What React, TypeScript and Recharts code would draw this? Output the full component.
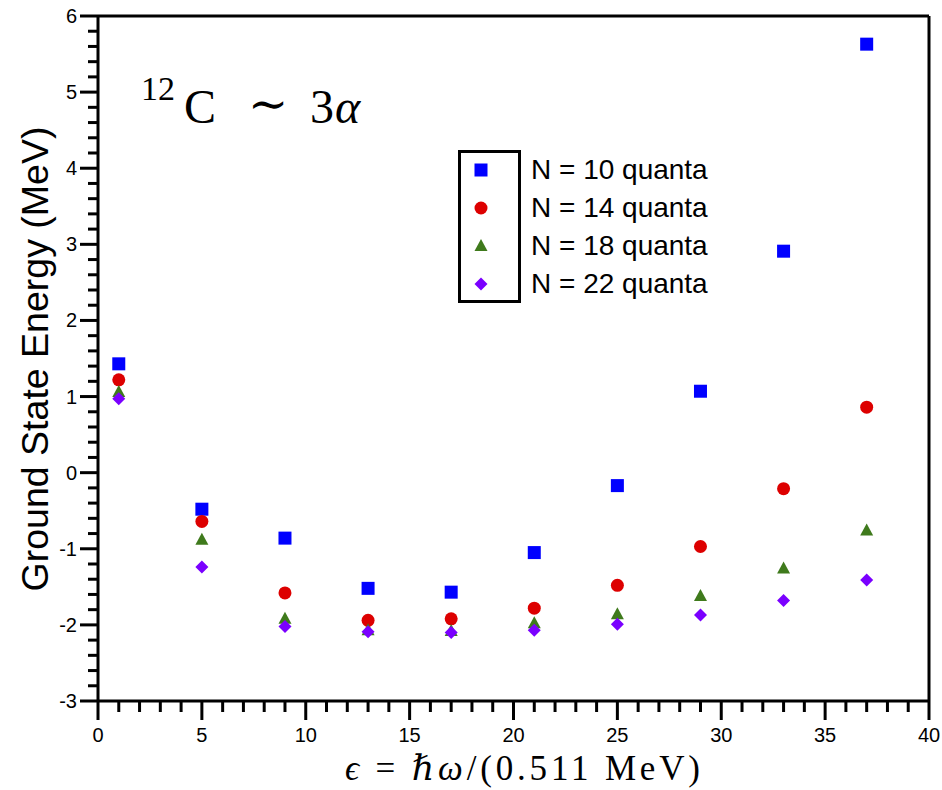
import { ScatterChart, Scatter, XAxis, YAxis, Legend, ReferenceLine, Label } from 'recharts'

const epsilon = [1, 5, 9, 13, 17, 21, 25, 29, 33, 37]
const quanta10 = [1.43, -0.48, -0.86, -1.52, -1.57, -1.05, -0.17, 1.07, 2.91, 5.63]
const quanta14 = [1.22, -0.64, -1.58, -1.94, -1.92, -1.78, -1.48, -0.97, -0.21, 0.86]
const quanta18 = [1.06, -0.88, -1.92, -2.07, -2.08, -1.98, -1.86, -1.62, -1.26, -0.76]
const quanta22 = [0.97, -1.24, -2.02, -2.09, -2.1, -2.07, -1.99, -1.87, -1.68, -1.41]

const xMajor = [0, 5, 10, 15, 20, 25, 30, 35, 40]
const yMajor = [-3, -2, -1, 0, 1, 2, 3, 4, 5, 6]
// minor ticks: every 1 on x, every 0.2 on y
const xTicks = Array.from({ length: 41 }, (_, i) => i)
const yTicks = Array.from({ length: 46 }, (_, i) => Math.round((-3 + i * 0.2) * 10) / 10)

const SANS = '"Liberation Sans", Arial, Helvetica, sans-serif'
const SERIF = '"Liberation Serif", "DejaVu Serif", serif'

const toPoints = (ys: number[]) => epsilon.map((x, i) => ({ x, y: ys[i] }))

const SquareDot = ({ cx, cy }: any) => <rect x={cx - 6.5} y={cy - 6.5} width={13} height={13} fill="#0000ff" />
const CircleDot = ({ cx, cy }: any) => <circle cx={cx} cy={cy} r={6.5} fill="#dd0000" />
const TriangleDot = ({ cx, cy }: any) => (
  <polygon points={`${cx},${cy - 7} ${cx - 6.5},${cy + 5} ${cx + 6.5},${cy + 5}`} fill="#3f7a1c" />
)
const DiamondDot = ({ cx, cy }: any) => (
  <polygon points={`${cx},${cy - 6.5} ${cx + 6.5},${cy} ${cx},${cy + 6.5} ${cx - 6.5},${cy}`} fill="#7a00ff" />
)

const series = [
  { name: 'N = 10 quanta', data: quanta10, Shape: SquareDot },
  { name: 'N = 14 quanta', data: quanta14, Shape: CircleDot },
  { name: 'N = 18 quanta', data: quanta18, Shape: TriangleDot },
  { name: 'N = 22 quanta', data: quanta22, Shape: DiamondDot },
]

const XTick = ({ x, y, payload }: any) => {
  const major = xMajor.includes(payload.value)
  return (
    <g>
      <line x1={x} y1={y} x2={x} y2={y + (major ? 19 : 11)} stroke="#000" strokeWidth={3} />
      {major && (
        <text x={x} y={y + 41} textAnchor="middle" fontFamily={SANS} fontSize={20} fill="#000">
          {payload.value}
        </text>
      )}
    </g>
  )
}

const YTick = ({ x, y, payload }: any) => {
  const major = yMajor.includes(payload.value)
  return (
    <g>
      <line x1={x} y1={y} x2={x - (major ? 18 : 10)} y2={y} stroke="#000" strokeWidth={3} />
      {major && (
        <text x={x - 21} y={y + 7} textAnchor="end" fontFamily={SANS} fontSize={20} fill="#000">
          {payload.value}
        </text>
      )}
    </g>
  )
}

const LegendBox = () => (
  <div style={{ position: 'relative', width: 280, height: 155, fontFamily: SANS }}>
    <div
      style={{
        position: 'absolute',
        left: 0,
        top: 0,
        width: 63,
        height: 153,
        border: '3px solid #000',
        boxSizing: 'border-box',
      }}
    />
    {series.map((s, i) => (
      <div key={s.name} style={{ position: 'absolute', left: 0, top: 4 + i * 38, height: 34, width: 280 }}>
        <svg width={40} height={34} style={{ position: 'absolute', left: 12, top: 0 }}>
          <s.Shape cx={11} cy={16} />
        </svg>
        <span style={{ position: 'absolute', left: 73, top: 0, fontSize: 28, lineHeight: '32px', color: '#000', whiteSpace: 'nowrap' }}>
          {s.name}
        </span>
      </div>
    ))}
  </div>
)

export default function App() {
  return (
    <div style={{ position: 'absolute', left: 0, top: 0, width: 942, height: 790, background: '#fff' }}>
      <ScatterChart width={942} height={790} margin={{ top: 16, right: 13, bottom: 0, left: 0 }}>
        <XAxis
          type="number"
          dataKey="x"
          domain={[0, 40]}
          ticks={xTicks}
          interval={0}
          tickSize={0}
          tickMargin={0}
          tick={<XTick />}
          height={89}
          axisLine={{ stroke: '#000', strokeWidth: 3 }}
          allowDataOverflow
        >
          <Label
            content={() => (
              <text
                x={345}
                y={780}
                textLength={355}
                lengthAdjust="spacing"
                fontFamily={SERIF}
                fontSize={35}
                fill="#000"
              >
                <tspan fontStyle="italic">ϵ</tspan>
                <tspan> = </tspan>
                <tspan fontStyle="italic">ℏω</tspan>
                <tspan>/(0.511 MeV)</tspan>
              </text>
            )}
          />
        </XAxis>
        <YAxis
          type="number"
          dataKey="y"
          domain={[-3, 6]}
          ticks={yTicks}
          interval={0}
          tickSize={0}
          tickMargin={0}
          tick={<YTick />}
          width={98}
          axisLine={{ stroke: '#000', strokeWidth: 3 }}
          allowDataOverflow
        >
          <Label
            content={() => (
              <text
                x={35}
                y={359}
                transform="rotate(-90 35 359)"
                textAnchor="middle"
                dominantBaseline="central"
                fontFamily={SANS}
                fontSize={37.5}
                fill="#000"
              >
                Ground State Energy (MeV)
              </text>
            )}
          />
        </YAxis>
        <ReferenceLine y={6} stroke="#000" strokeWidth={3} />
        <ReferenceLine x={40} stroke="#000" strokeWidth={3} />
        {series.map((s) => (
          <Scatter key={s.name} name={s.name} data={toPoints(s.data)} shape={<s.Shape />} isAnimationActive={false} />
        ))}
        <Legend
          verticalAlign="middle"
          content={<LegendBox />}
          wrapperStyle={{ left: 458, top: 150, width: 280, height: 155 }}
        />
        <text y={123} fontFamily={SERIF} fill="#000">
          <tspan x={141} y={100} fontSize={34}>12</tspan>
          <tspan x={184} y={123} fontSize={48}>C</tspan>
          <tspan x={248} y={120} fontSize={48}>∼</tspan>
          <tspan x={310} y={123} fontSize={48}>3</tspan>
          <tspan x={335} y={123} fontSize={48} fontStyle="italic">α</tspan>
        </text>
      </ScatterChart>
    </div>
  )
}
